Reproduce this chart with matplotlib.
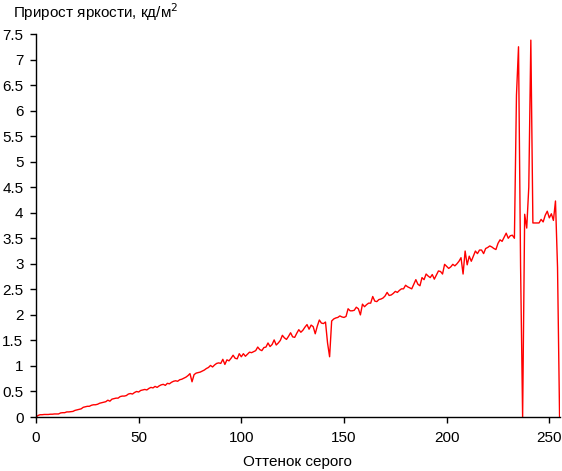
import numpy as np
import matplotlib
matplotlib.use("Agg")
import matplotlib.pyplot as plt

plt.rcParams['font.family'] = ['Liberation Sans', 'DejaVu Sans']

# brightness increment per grey level
gain = [
    0.00, 0.03, 0.045, 0.045, 0.05, 0.05, 0.05, 0.055, 0.055, 0.06,
    0.06, 0.06, 0.08, 0.085, 0.085, 0.10, 0.10, 0.105, 0.11, 0.13,
    0.14, 0.15, 0.16, 0.19, 0.20, 0.21, 0.21, 0.23, 0.24, 0.24,
    0.25, 0.27, 0.28, 0.29, 0.30, 0.33, 0.31, 0.35, 0.36, 0.37,
    0.37, 0.40, 0.41, 0.41, 0.42, 0.45, 0.46, 0.45, 0.48, 0.50,
    0.49, 0.52, 0.53, 0.54, 0.53, 0.56, 0.58, 0.57, 0.60, 0.58,
    0.61, 0.63, 0.64, 0.62, 0.66, 0.65, 0.68, 0.70, 0.71, 0.70,
    0.73, 0.74, 0.76, 0.78, 0.81, 0.85, 0.69, 0.83, 0.86, 0.87,
    0.88, 0.90, 0.92, 0.95, 0.97, 1.01, 0.98, 1.02, 1.05, 1.06,
    1.05, 1.13, 1.03, 1.12, 1.10, 1.15, 1.21, 1.15, 1.14, 1.24,
    1.18, 1.24, 1.19, 1.23, 1.27, 1.26, 1.28, 1.30, 1.37, 1.32,
    1.30, 1.36, 1.37, 1.45, 1.38, 1.42, 1.51, 1.41, 1.45, 1.50,
    1.60, 1.55, 1.52, 1.58, 1.65, 1.57, 1.56, 1.64, 1.71, 1.66,
    1.70, 1.76, 1.81, 1.72, 1.80, 1.77, 1.63, 1.78, 1.90, 1.84,
    1.83, 1.86, 1.45, 1.18, 1.88, 1.92, 1.94, 1.95, 1.98, 1.96,
    1.95, 1.97, 2.12, 2.08, 2.08, 2.09, 2.15, 2.12, 2.00, 2.21,
    2.16, 2.20, 2.23, 2.23, 2.36, 2.27, 2.26, 2.30, 2.31, 2.33,
    2.37, 2.44, 2.38, 2.39, 2.42, 2.46, 2.44, 2.48, 2.51, 2.51,
    2.58, 2.55, 2.53, 2.51, 2.60, 2.69, 2.60, 2.57, 2.73, 2.69,
    2.80, 2.76, 2.73, 2.79, 2.70, 2.78, 2.86, 2.85, 2.80, 2.99,
    2.95, 2.91, 2.94, 2.99, 2.96, 3.00, 3.05, 3.12, 2.80, 3.25,
    2.98, 3.15, 3.05, 3.15, 3.25, 3.20, 3.27, 3.27, 3.20, 3.30,
    3.32, 3.35, 3.33, 3.30, 3.28, 3.40, 3.47, 3.44, 3.52, 3.60,
    3.50, 3.55, 3.56, 3.50, 6.30, 7.25, 2.96, 0.00, 3.97, 3.70,
    4.50, 7.38, 3.80, 3.80, 3.80, 3.80, 3.87, 3.82, 3.95, 4.03,
    3.90, 3.98, 3.85, 4.23, 2.93, 0.00,
]
grey = np.arange(len(gain))

xticks = [0, 50, 100, 150, 200, 250]
yticks = [0, 0.5, 1, 1.5, 2, 2.5, 3, 3.5, 4, 4.5, 5, 5.5, 6, 6.5, 7, 7.5]
ylabels = ['0', '0.5', '1', '1.5', '2', '2.5', '3', '3.5', '4', '4.5',
           '5', '5.5', '6', '6.5', '7', '7.5']

fig = plt.figure(figsize=(5.62, 4.71), dpi=100)
ax = fig.add_axes([0.064, 0.1146, 0.9317, 0.8132])

ax.plot(grey, gain, color='red', linewidth=1.0)

ax.set_xlim(0, 255)
ax.set_ylim(0, 7.5)
ax.set_xticks(xticks)
ax.set_yticks(yticks)
ax.set_yticklabels(ylabels)
ax.tick_params(labelsize=11, length=4, width=1, direction='out')
ax.tick_params(axis='x', pad=6)
ax.tick_params(axis='y', pad=5)
for s in ['top', 'right']:
    ax.spines[s].set_visible(False)
for s in ['left', 'bottom']:
    ax.spines[s].set_linewidth(1)

ax.set_xlabel('Оттенок серого', fontsize=11, labelpad=7)
fig.text(0.023, 0.974, 'Прирост яркости, кд/м$^2$', fontsize=11, ha='left', va='center')

fig.savefig('out.png', dpi=100)
